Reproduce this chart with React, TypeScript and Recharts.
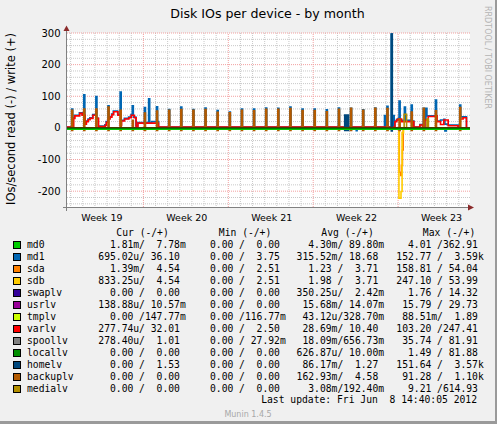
import React from 'react';
import { LineChart, Line, XAxis, YAxis, CartesianGrid, ReferenceLine } from 'recharts';

type Pt = [number, number];

// x = days since Monday of week 19
const X_START = 0.7;
const X_END = 33.93;

const weekLabels = ['Week 19', 'Week 20', 'Week 21', 'Week 22', 'Week 23'];
const weekLabelDays = [3.58, 10.58, 17.58, 24.58, 31.58];
const weekStartDays = [7, 14, 21, 28];
const dayGridDays = [1, 2, 3, 4, 5, 6, 8, 9, 10, 11, 12, 13, 15, 16, 17, 18, 19, 20, 22, 23, 24, 25, 26, 27, 29, 30, 31, 32, 33];
const yTicks = [-200, -100, 0, 100, 200, 300];
const yMinorTicks = [-240, -220, -180, -160, -140, -120, -80, -60, -40, -20, 20, 40, 60, 80, 120, 140, 160, 180, 220, 240, 260, 280];

// daily backup spikes
const spikeDays = [1.08, 2.08, 3.08, 4.08, 5.08, 6.08, 7.08, 8.08, 9.08, 10.08, 11.08, 12.08, 13.08, 14.08, 15.08, 16.08, 17.08, 18.08, 19.08, 20.08, 21.08, 22.08, 23.08, 24.08, 25.08, 26.08, 27.08, 28.08, 29.08, 30.08, 31.08, 32.08, 33.08];
const backuplvWriteSpikes = [56, 60, 60, 66, 56, 24, 47, 53, 56, 58, 56, 58, 49, 48, 56, 54, 59, 59, 61, 55, 55, 51, 59, 62, 56, 62, 61, 28, 50, 62, 54, 0, 64];
const backuplvReadSpikes = [-8, -8, -8, -8, -8, -8, -8, -8, -8, -8, -8, -8, -8, -8, -8, -8, -8, -8, -8, -8, -8, -8, -8, -8, -8, -8, -8, -8, -8, -8, -8, 0, -8];

const md1Write: Pt[] = [
  [0.7, 3],
  [1.08, 60], [1.17, 3], [1.22, 32], [1.32, 40], [1.72, 48], [1.95, 42],
  [2.08, 105], [2.17, 14], [2.28, 22], [2.43, 28], [2.58, 32], [2.82, 42],
  [3.08, 99], [3.17, 30], [3.28, 6],
  [3.82, 10], [3.93, 20], [4.08, 70], [4.17, 30], [4.23, 36], [4.38, 44], [4.52, 53], [4.88, 42],
  [5.08, 113], [5.17, 10], [5.18, 24], [5.43, 30], [5.78, 34], [5.98, 42],
  [6.08, 70], [6.17, 34], [6.38, 6], [6.53, 17],
  [7.08, 64], [7.17, 17], [7.43, 92], [7.52, 17], [7.68, 20],
  [8.08, 67], [8.17, 20], [8.25, 3],
  [9.08, 58], [9.17, 3],
  [10.08, 66], [10.17, 3],
  [11.08, 58], [11.17, 3],
  [12.08, 63], [12.17, 3],
  [13.08, 55], [13.17, 3],
  [14.08, 50], [14.17, 3],
  [15.08, 60], [15.17, 3],
  [16.08, 60], [16.17, 3],
  [17.08, 63], [17.17, 3],
  [18.08, 62], [18.17, 3],
  [19.08, 66], [19.17, 3],
  [20.08, 60], [20.17, 3],
  [21.08, 60], [21.17, 3],
  [22.08, 57], [22.17, 3],
  [23.08, 63], [23.17, 3],
  [24.08, 62], [24.17, 3],
  [25.08, 57], [25.17, 3],
  [26.08, 63], [26.17, 3],
  [26.88, 39], [26.96, 3],
  [27.08, 68], [27.17, 3],
  [27.44, 297], [27.52, 3], [27.58, 39], [27.68, 3],
  [27.74, 22], [27.88, 27], [28.01, 30],
  [28.08, 85], [28.17, 24],
  [28.52, 66], [28.61, 24],
  [29.08, 72], [29.17, 22], [29.3, 3],
  [29.8, 11], [30.02, 3],
  [30.08, 62], [30.17, 3], [30.21, 27],
  [30.3, 62], [30.38, 38],
  [31.08, 88], [31.17, 22], [31.5, 25], [31.77, 27], [31.86, 12], [32.13, 9], [32.95, 3],
  [33.08, 72], [33.17, 35], [33.64, 0], [33.93, 0],
];
const md1Read: Pt[] = [
  [0.7, 0], [24.55, -9], [24.62, 0], [31.86, -10], [31.98, 0], [33.93, 0],
];
const varlvWrite: Pt[] = [
  [0.7, 3], [1.25, 30], [1.35, 38], [1.75, 46], [1.95, 40], [2.2, 12], [2.3, 20], [2.45, 26], [2.6, 30],
  [2.84, 40], [3.1, 30], [3.3, 4], [3.85, 8], [3.95, 18], [4.1, 28], [4.25, 34], [4.4, 42], [4.55, 51],
  [4.9, 40], [5.1, 8], [5.2, 22], [5.45, 28], [5.8, 32], [6.0, 40], [6.25, 32], [6.4, 4], [6.55, 15],
  [8.25, 3], [27.74, 20], [27.88, 25], [28.01, 28], [28.29, 20], [29.3, 3], [29.8, 9], [30.02, 3],
  [30.21, 25], [30.48, 36], [31.03, 38], [31.22, 20], [31.5, 11], [31.77, 25], [32.13, 7], [32.95, 3],
  [33.09, 28], [33.36, 32], [33.64, 0], [33.93, 0],
];
const varlvRead: Pt[] = [[0.7, 0], [7.08, -5], [7.17, 0], [33.93, 0]];
const homelvWrite: Pt[] = [[0.7, 0], [23.6, 41], [23.7, 0], [23.82, 41], [23.92, 0], [27.44, 297], [27.52, 0], [33.93, 0]];
const homelvRead: Pt[] = [[0.7, 0], [23.6, -8], [23.7, 0], [23.82, -8], [23.92, 0], [27.44, -10], [27.52, 0], [33.93, 0]];
const medialvWrite: Pt[] = [[0.7, 0], [28.5, 43], [28.7, 0], [30.38, 28], [30.5, 0], [33.93, 0]];
const sdaRead: Pt[] = [[0.7, 0], [28.1, -140], [28.22, -150], [28.28, -118], [28.36, -70], [28.42, 0], [33.93, 0]];
const sdbRead: Pt[] = [[0.7, 0], [28.07, -222], [28.24, -201], [28.33, -15], [28.45, 0], [33.93, 0]];
const md0Series: Pt[] = [[0.7, 0], [33.93, 0]];

// legend
const names = ['md0', 'md1', 'sda', 'sdb', 'swaplv', 'usrlv', 'tmplv', 'varlv', 'spoollv', 'locallv', 'homelv', 'backuplv', 'medialv'];
const colors = ['#00CC00', '#0066B3', '#FF8000', '#FFCC00', '#330099', '#990099', '#CCFF00', '#FF0000', '#808080', '#008F00', '#00487D', '#B35A00', '#B38F00'];
const curVals: [string, string][] = [['1.81m', '7.78m'], ['695.02u', '36.10'], ['1.39m', '4.54'], ['833.25u', '4.54'], ['0.00', '0.00'], ['138.88u', '10.57m'], ['0.00', '147.77m'], ['277.74u', '32.01'], ['278.40u', '1.01'], ['0.00', '0.00'], ['0.00', '1.53'], ['0.00', '0.00'], ['0.00', '0.00']];
const minVals: [string, string][] = [['0.00', '0.00'], ['0.00', '3.75'], ['0.00', '2.51'], ['0.00', '2.51'], ['0.00', '0.00'], ['0.00', '0.00'], ['0.00', '116.77m'], ['0.00', '2.50'], ['0.00', '27.92m'], ['0.00', '0.00'], ['0.00', '0.00'], ['0.00', '0.00'], ['0.00', '0.00']];
const avgVals: [string, string][] = [['4.30m', '89.80m'], ['315.52m', '18.68'], ['1.23', '3.71'], ['1.98', '3.71'], ['350.25u', '2.42m'], ['15.68m', '14.07m'], ['43.12u', '328.70m'], ['28.69m', '10.40'], ['18.09m', '656.73m'], ['626.87u', '10.00m'], ['86.17m', '1.27'], ['162.93m', '4.58'], ['3.08m', '192.40m']];
const maxVals: [string, string][] = [['4.01', '362.91'], ['152.77', '3.59k'], ['158.81', '54.04'], ['247.10', '53.99'], ['1.76', '14.32'], ['15.79', '29.73'], ['88.51m', '1.89'], ['103.20', '247.41'], ['35.74', '81.91'], ['1.49', '81.88'], ['151.64', '3.57k'], ['91.28', '1.10k'], ['9.21', '614.93']];
const headers = ['Cur (-/+)', 'Min (-/+)', 'Avg (-/+)', 'Max (-/+)'];
const lastUpdate = 'Last update: Fri Jun  8 14:40:05 2012';

const headerX = [116.3, 218.8, 321.3, 422.8];
const colX = [98.3, 198.3, 296.6, 396.3];

const fmt = (s: string) => {
  const m = s.match(/^([\d.]+)([a-zA-Z]?)$/);
  const num = m ? m[1] : s;
  const unit = m && m[2] ? m[2] : ' ';
  return num.padStart(6, ' ') + unit;
};
const cell = (p: [string, string]) => fmt(p[0]) + '/' + fmt(p[1]);

const toRows = (pts: Pt[]) => pts.map(([d, v]) => ({ d, v }));
const spikeSeries = (days: number[], vals: number[], width: number): Pt[] => {
  const pts: Pt[] = [[X_START, 0]];
  days.forEach((d, i) => {
    if (vals[i] !== 0) {
      pts.push([d, vals[i]]);
      pts.push([d + width, 0]);
    }
  });
  pts.push([X_END, 0]);
  return pts;
};

const series: { key: string; pts: Pt[]; color: string; cls?: string; sw?: number }[] = [
  { key: 'md1w', pts: md1Write, color: '#0066B3' },
  { key: 'md1r', pts: md1Read, color: '#0066B3' },
  { key: 'sdar', pts: sdaRead, color: '#FF8000' },
  { key: 'sdbr', pts: sdbRead, color: '#FFCC00' },
  { key: 'varw', pts: varlvWrite, color: '#FF0000' },
  { key: 'varr', pts: varlvRead, color: '#FF0000' },
  { key: 'homew', pts: homelvWrite, color: '#00487D' },
  { key: 'homer', pts: homelvRead, color: '#00487D' },
  { key: 'backw', pts: spikeSeries(spikeDays, backuplvWriteSpikes, 0.09), color: '#B35A00' },
  { key: 'backr', pts: spikeSeries(spikeDays, backuplvReadSpikes, 0.09), color: '#B35A00' },
  { key: 'mediaw', pts: medialvWrite, color: '#B38F00' },
  { key: 'md0', pts: md0Series, color: '#00CC00', cls: 'md0line', sw: 2 },
];

const MONO = '"DejaVu Sans Mono", monospace';
const SANS = '"DejaVu Sans", sans-serif';
const MGRID = '#F2A0A0';

export default function App() {
  return (
    <div style={{ position: 'absolute', left: 0, top: 0, width: 497, height: 424, background: '#F0F0F0', overflow: 'hidden' }}>
      <style>{`.md0line path{transform:translateY(1px)}`}</style>
      <div style={{ position: 'absolute', left: 0, top: 0 }}>
        <LineChart width={497} height={424} margin={{ top: 33, right: 27, bottom: 197, left: 7 }}>
          <CartesianGrid
            fill="#FFFFFF"
            stroke="#C8C8C8"
            strokeDasharray="1 1"
            verticalValues={dayGridDays}
            horizontalValues={yMinorTicks}
          />
          <XAxis
            dataKey="d"
            type="number"
            domain={[X_START, X_END]}
            allowDataOverflow
            ticks={weekLabelDays}
            interval={0}
            tickFormatter={(v: number) => weekLabels[weekLabelDays.indexOf(v)] ?? ''}
            tickLine={false}
            axisLine={false}
            tickSize={4}
            tickMargin={3}
            height={20}
            tick={{ fontSize: 9.5, fill: '#000', fontFamily: SANS }}
          />
          <YAxis
            type="number"
            domain={[-250, 300]}
            allowDataOverflow
            ticks={yTicks}
            interval={0}
            tickLine={false}
            axisLine={false}
            tickSize={4}
            tickMargin={2.5}
            width={60}
            tick={{ fontSize: 10, fill: '#000', fontFamily: SANS }}
          />
          {weekStartDays.map((d) => (
            <ReferenceLine key={`wx${d}`} x={d} stroke={MGRID} strokeDasharray="1 1" strokeWidth={1} />
          ))}
          {yTicks.map((v) => (
            <ReferenceLine key={`hy${v}`} y={v} stroke={MGRID} strokeDasharray="1 1" strokeWidth={1} />
          ))}
          {series.map((s) => (
            <Line
              key={s.key}
              data={toRows(s.pts)}
              dataKey="v"
              type="stepAfter"
              stroke={s.color}
              strokeWidth={s.sw ?? 1.6}
              dot={false}
              activeDot={false}
              className={s.cls}
              isAnimationActive={false}
            />
          ))}
          <ReferenceLine y={0} stroke="#000000" strokeWidth={1} />
        </LineChart>
      </div>
      <svg width={497} height={424} style={{ position: 'absolute', left: 0, top: 0, pointerEvents: 'none' }}>
        {/* frame */}
        <rect x={495} y={0} width={2} height={424} fill="#9A9A9A" />
        <rect x={0} y={421} width={497} height={3} fill="#9A9A9A" />
        {/* axes */}
        <line x1={63} y1={207.5} x2={470} y2={207.5} stroke="#808080" strokeWidth={1} />
        <line x1={66.5} y1={211} x2={66.5} y2={30} stroke="#808080" strokeWidth={1} />
        <polygon points="63.5,31 69.5,31 66.5,25.5" fill="#8B2B2B" />
        <polygon points="468,204.5 468,210.5 474,207.5" fill="#8B2B2B" />
        {/* title */}
        <text x={267.5} y={18.3} textAnchor="middle" fontFamily={SANS} fontSize={12.6} fill="#000">Disk IOs per device - by month</text>
        <text transform="translate(15.2,119) rotate(-90)" textAnchor="middle" fontFamily={SANS} fontSize={11.5} fill="#000">IOs/second read (-) / write (+)</text>
        <text transform="translate(485,6) rotate(90)" textAnchor="start" fontFamily={SANS} fontSize={8} fill="#B4B4B4">RRDTOOL / TOBI OETIKER</text>
        {/* legend */}
        {headers.map((h, i) => (
          <text key={h} x={headerX[i]} y={236} fontFamily={MONO} fontSize={9.7} fill="#000" style={{ whiteSpace: 'pre' }}>{h}</text>
        ))}
        {names.map((n, i) => {
          const by = 247.5 + 12 * i;
          return (
            <g key={n}>
              <rect x={13.5} y={241.5 + 12 * i} width={7} height={7} fill={colors[i]} stroke="#000" strokeWidth={1} />
              <text x={27} y={by} fontFamily={MONO} fontSize={9.7} fill="#000" style={{ whiteSpace: 'pre' }}>{n}</text>
              {[curVals, minVals, avgVals, maxVals].map((col, j) => (
                <text key={j} x={colX[j]} y={by} fontFamily={MONO} fontSize={9.7} fill="#000" style={{ whiteSpace: 'pre' }}>{cell(col[i])}</text>
              ))}
            </g>
          );
        })}
        <text x={261.2} y={403.3} fontFamily={MONO} fontSize={9.7} fill="#000" style={{ whiteSpace: 'pre' }}>{lastUpdate}</text>
        <text x={248} y={416.5} textAnchor="middle" fontFamily={SANS} fontSize={8} fill="#A8A8A8">Munin 1.4.5</text>
      </svg>
    </div>
  );
}
